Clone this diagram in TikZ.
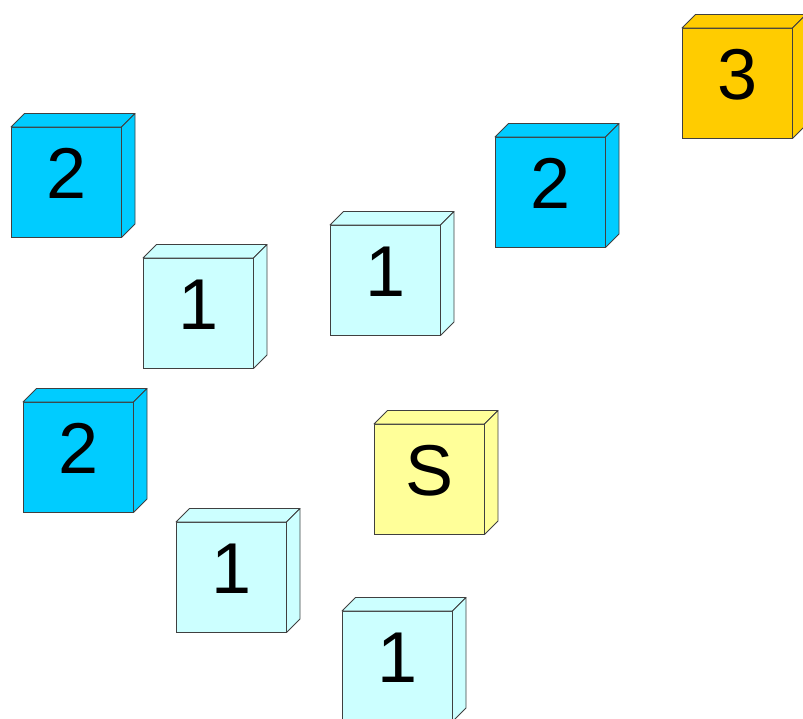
\documentclass[tikz,border=0pt]{standalone}
\usepackage{fontspec}
\setmainfont{Liberation Sans}
\usepackage{tikz}

\definecolor{ringtwo}{HTML}{00CCFF}
\definecolor{ringone}{HTML}{CCFFFF}
\definecolor{ringthree}{HTML}{FFCC00}
\definecolor{startcol}{HTML}{FFFF99}

\tikzset{
 cube/.style={draw=black!75,line width=0.8pt,minimum width=110.5pt,minimum height=110.5pt,
  inner sep=0pt,outer sep=0pt,anchor=north west,font=\fontsize{72}{72}\selectfont,text depth=18pt},
 face/.style={draw=black!75,line width=0.8pt,line join=round}
}

% front face at (#2), fill #3, label #4, named #1
\newcommand{\cubebox}[4]{
 \node[cube,fill=#3] (#1) at (#2) {#4};
 \filldraw[face,fill=#3] (#1.north west) -- ([shift={(13.5,-13.5)}]#1.north west)
  -- ([shift={(13.5,-13.5)}]#1.north east) -- (#1.north east) -- cycle;
 \filldraw[face,fill=#3] (#1.north east) -- ([shift={(13.5,-13.5)}]#1.north east)
  -- ([shift={(13.5,-13.5)}]#1.south east) -- (#1.south east) -- cycle;
}

\begin{document}
\begin{tikzpicture}[x=1pt,y=-1pt]
 \useasboundingbox (0,0) rectangle (803,718);
 \cubebox{twoa}{11,127}{ringtwo}{2}
 \cubebox{onea}{143,258}{ringone}{1}
 \cubebox{oneb}{330,225}{ringone}{1}
 \cubebox{twob}{495,137}{ringtwo}{2}
 \cubebox{three}{682,28}{ringthree}{3}
 \cubebox{twoc}{23,402}{ringtwo}{2}
 \cubebox{start}{374,424}{startcol}{S}
 \cubebox{onec}{176,522}{ringone}{1}
 \cubebox{oned}{342,611}{ringone}{1}
\end{tikzpicture}
\end{document}
